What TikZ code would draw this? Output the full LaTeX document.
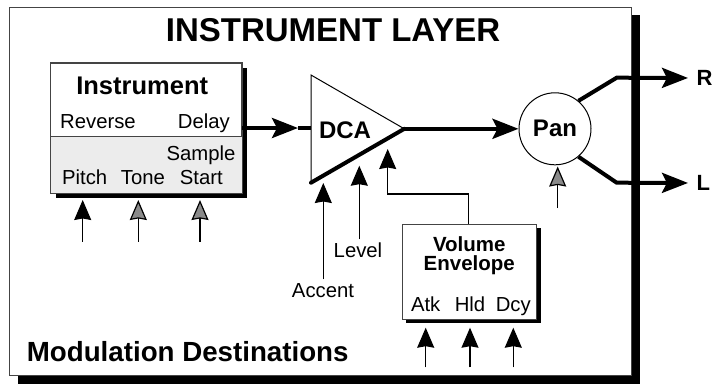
\documentclass[tikz,border=0pt]{standalone}
\usepackage{fontspec}
\setmainfont{Liberation Sans}
\usetikzlibrary{arrows.meta}
\definecolor{boxgrey}{HTML}{ECECEC}
\definecolor{tipgrey}{HTML}{8A8A8A}
\definecolor{edge}{HTML}{444444}
\begin{document}
\begin{tikzpicture}[x=1pt,y=-1pt,
  txt/.style={inner sep=0pt,anchor=base,font=\fontsize{20.3}{24}\selectfont},
  btxt/.style={inner sep=0pt,anchor=base,font=\fontsize{24}{28}\selectfont\bfseries},
  boxline/.style={draw=edge,line width=1pt},
  sig/.style={line width=4pt,line join=miter},
  bigtip/.style={-{Stealth[length=26pt,width=20pt,inset=5pt]}},
  modb/.style={line width=1.2pt,-{Stealth[length=20pt,width=17pt,inset=1.5pt]}},
  modg/.style={line width=1.2pt,-{Stealth[length=20pt,width=17pt,inset=1.5pt,fill=tipgrey]}},
  thinln/.style={line width=1.2pt}
]
\useasboundingbox (0,0) rectangle (713,384);
% frame shadow and frame
\fill[black] (631,15) rectangle (640,384);
\fill[black] (18,375) rectangle (640,384);
\draw[draw=edge,line width=1pt,fill=white] (9,7) rectangle (631,375);
\node[inner sep=0pt,anchor=base,font=\fontsize{33}{36}\selectfont\bfseries] (title) at (333,41) {INSTRUMENT LAYER};
% Instrument box
\fill[black] (55.7,68.3) rectangle (246.7,197.7);
\node[boxline,fill=white,minimum width=191pt,minimum height=129.4pt,inner sep=0pt] (inst) at (146.2,128) {};
\fill[boxgrey] (50.7,136.7) rectangle (241.7,192.7);
\draw[boxline] (50.7,136.7) -- (241.7,136.7);
\draw[boxline] (inst.south west) rectangle (inst.north east);
\node[btxt,font=\fontsize{25.5}{28}\selectfont\bfseries] (insttitle) at (142.2,94) {Instrument};
\node[txt,anchor=base west] (rev) at (60,128) {Reverse};
\node[txt,anchor=base east] (del) at (230,128) {Delay};
\node[txt] (samp) at (201,160.5) {Sample};
\node[txt] (start) at (201.3,184.3) {Start};
\node[txt] (pitch) at (84.7,184.3) {Pitch};
\node[txt] (tone) at (143,184.3) {Tone};
% DCA
\coordinate (dcaT) at (311,75);
\coordinate (dcaB) at (311,182.7);
\coordinate (dcaA) at (404.3,128.8);
\coordinate (dcaIn) at (311,128);
\coordinate (dcaTip) at (298,128);
\draw[line width=1pt] (dcaB) -- (dcaT) -- (dcaA);
\draw[sig,line cap=round] (dcaB) -- (dcaA);
\node[btxt] (dca) at (345,138.3) {DCA};
% Pan
\node[circle,draw,line width=1pt,minimum size=72pt,inner sep=0pt,font=\fontsize{24}{28}\selectfont\bfseries] (pan) at (555,128.8) {Pan};
% signal flow
\draw[sig,bigtip] (inst.east) -- (dcaTip);
\draw[sig] (dcaTip) -- (dcaIn);
\draw[sig,bigtip] (dcaA) -- (pan.west);
\node[inner sep=0pt,anchor=west,font=\fontsize{22}{26}\selectfont\bfseries] (R) at (696.5,78) {R};
\node[inner sep=0pt,anchor=west,font=\fontsize{22}{26}\selectfont\bfseries] (L) at (696.5,183) {L};
\coordinate (rBend) at (616.7,77.7);
\coordinate (lBend) at (616.7,182.7);
\draw[sig,bigtip,shorten >=8.5pt] (pan.50) -- (rBend) -- (R.west);
\draw[sig,bigtip,shorten >=8.5pt] (pan.-50) -- (lBend) -- (L.west);
% instrument modulation arrows
\coordinate (ip1) at (82.7,241.7);  \coordinate (it1) at (82.7,200);
\coordinate (ip2) at (138.3,241.7); \coordinate (it2) at (138.3,200);
\coordinate (ip3) at (200,241.7);   \coordinate (it3) at (200,200);
\draw[modb] (ip1) -- (it1);
\draw[modg] (ip2) -- (it2);
\draw[modg] (ip3) -- (it3);
% DCA modulation
\node[txt] (accent) at (323,297.3) {Accent};
\node[txt] (level) at (358,257.3) {Level};
\coordinate (at) at (323.3,183);
\coordinate (lt) at (359.3,165.7);
\coordinate (ab) at (323.3,279.3);
\coordinate (lb) at (359.3,239.3);
\draw[modb] (ab) -- (at);
\draw[modb] (lb) -- (lt);
% Pan modulation
\coordinate (pp) at (557.7,208);
\coordinate (pt) at (557.7,166.5);
\draw[modg] (pp) -- (pt);
% Volume envelope
\fill[black] (406.3,228.3) rectangle (540.7,323.3);
\node[boxline,fill=white,minimum width=134.4pt,minimum height=95pt,inner sep=0pt] (env) at (469.5,271.8) {};
\node[btxt,font=\fontsize{20.5}{24}\selectfont\bfseries] (vol) at (469.3,251) {Volume};
\node[btxt,font=\fontsize{20.5}{24}\selectfont\bfseries] (envl) at (469.3,270.7) {Envelope};
\node[txt] (atk) at (425.7,311.7) {Atk};
\node[txt] (hld) at (470,311.7) {Hld};
\node[txt] (dcy) at (513.3,311.7) {Dcy};
\coordinate (e1) at (468.3,194);
\coordinate (e2) at (387.7,194);
\coordinate (et) at (387.7,149);
\draw[thinln,-{Stealth[length=20pt,width=17pt,inset=1.5pt]}] (env.north -| e1) -- (e1) -- (e2) -- (et);
\coordinate (ep1) at (425.7,367.3); \coordinate (etp1) at (425.7,327.7);
\coordinate (ep2) at (470,367.3);   \coordinate (etp2) at (470,327.7);
\coordinate (ep3) at (513.3,367.3); \coordinate (etp3) at (513.3,327.7);
\draw[modb] (ep1) -- (etp1);
\draw[modb] (ep2) -- (etp2);
\draw[modb] (ep3) -- (etp3);
\node[btxt,anchor=base west,font=\fontsize{27.7}{30}\selectfont\bfseries] (moddest) at (26.7,361.7) {Modulation Destinations};
\end{tikzpicture}
\end{document}
